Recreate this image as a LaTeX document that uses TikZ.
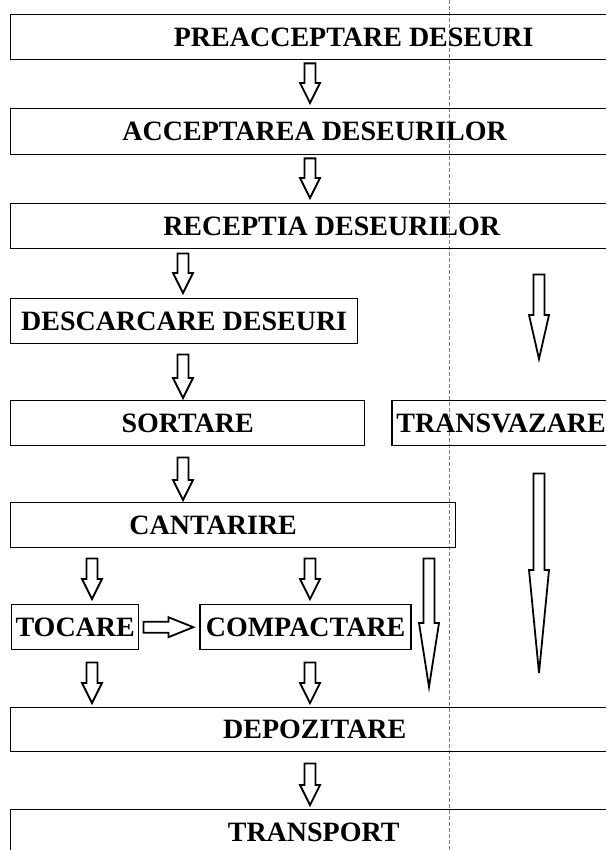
\documentclass[tikz,border=0pt]{standalone}
\usepackage{fontspec}
\setmainfont{Liberation Serif}
\usetikzlibrary{positioning,calc}

\begin{document}
\begin{tikzpicture}[
  x=0.5pt, y=-0.5pt,
  box/.style={rectangle, draw, line width=0.7pt, anchor=north west,
    minimum height=22.5pt, inner sep=0pt,
    font=\fontsize{14}{16}\selectfont\bfseries},
  tiplen/.store in=\tiplen, tiplen=10pt,
  hollow/.style={draw, line width=0.9pt, tiplen=#1,
    to path={let \p1=(\tikztostart), \p2=(\tikztotarget),
      \p3=($(\p2)!\tiplen!(\p1)$) in
      ($(\p1)!2.75pt!90:(\p3)$) -- ($(\p3)!2.75pt!-90:(\p1)$)
      -- ($(\p3)!5pt!-90:(\p1)$) -- (\p2)
      -- ($(\p3)!5pt!90:(\p1)$) -- ($(\p3)!2.75pt!90:(\p1)$)
      -- ($(\p1)!2.75pt!-90:(\p3)$) -- cycle}},
  hollow/.default=10pt,
]
  \useasboundingbox (0,0) rectangle (606,850);
  \clip (0,0) rectangle (606,850);

  % fold of the scanned page
  \draw[gray, dash pattern=on 2pt off 1pt, line width=0.3pt] (449,0) -- (449,850);

  \coordinate (colA) at (92,0);
  \coordinate (colB) at (183,0);
  \coordinate (colC) at (310,0);
  \coordinate (colD) at (429,0);
  \coordinate (colE) at (539,0);

  \node[box, minimum width=343pt] (pre) at (10,14) {PREACCEPTARE DESEURI};
  \node[box, minimum width=304pt, minimum height=23pt] (acc) at (10,108) {ACCEPTAREA DESEURILOR};
  \node[box, minimum width=321pt] (rec) at (10,203) {RECEPTIA DESEURILOR};
  \node[box, minimum width=173.5pt] (desc) at (10,298) {DESCARCARE DESEURI};
  \node[box, minimum width=177pt] (sort) at (10,400) {SORTARE};
  \node[box, minimum width=109pt, right=13pt of sort] (trans) {TRANSVAZARE};
  \node[box, minimum width=222.5pt] (cant) at (10,502) {CANTARIRE\hspace*{20pt}};
  \node[box, minimum width=63.5pt] (toc) at (11,604) {TOCARE};
  \node[box, minimum width=105.5pt, right=30pt of toc] (comp) {COMPACTARE};
  \node[box, minimum width=304pt, minimum height=22pt] (dep) at (10,707) {DEPOZITARE};
  \node[box, minimum width=303pt] (tra) at (10,809) {TRANSPORT};

  \draw[hollow] ([yshift=-1.5pt]pre.south -| colC) to ([yshift=2.5pt]acc.north -| colC);
  \draw[hollow] ([yshift=-1.5pt]acc.south -| colC) to ([yshift=2.5pt]rec.north -| colC);
  \draw[hollow] ([yshift=-2pt]rec.south -| colB) to ([yshift=2.5pt]desc.north -| colB);
  \draw[hollow] ([yshift=-5pt]desc.south -| colB) to ([yshift=1pt]sort.north -| colB);
  \draw[hollow] ([yshift=-5.5pt]sort.south -| colB) to ([yshift=1pt]cant.north -| colB);
  \draw[hollow] ([yshift=-5pt]cant.south -| colA) to ([yshift=2.5pt]toc.north -| colA);
  \draw[hollow] ([yshift=-5pt]cant.south -| colC) to ([yshift=2.5pt]comp.north -| colC);
  \draw[hollow=12.5pt] ([xshift=2pt]toc.east) to ([xshift=-3pt]comp.west);
  \draw[hollow] ([yshift=-6pt]toc.south -| colA) to ([yshift=2pt]dep.north -| colA);
  \draw[hollow] ([yshift=-6pt]comp.south -| colC) to ([yshift=2pt]dep.north -| colC);
  \draw[hollow] ([yshift=-5.5pt]dep.south -| colC) to ([yshift=2pt]tra.north -| colC);
  \draw[hollow=32pt] ([yshift=-5pt]cant.south -| colD) to ([yshift=10pt]dep.north -| colD);
  \draw[hollow=22pt] ([yshift=-12.5pt]rec.south -| colE) to ([yshift=20.5pt]trans.north -| colE);
  \draw[hollow=51.5pt] ([yshift=-13.5pt]trans.south -| colE) to ([yshift=17pt]dep.north -| colE);
\end{tikzpicture}
\end{document}
